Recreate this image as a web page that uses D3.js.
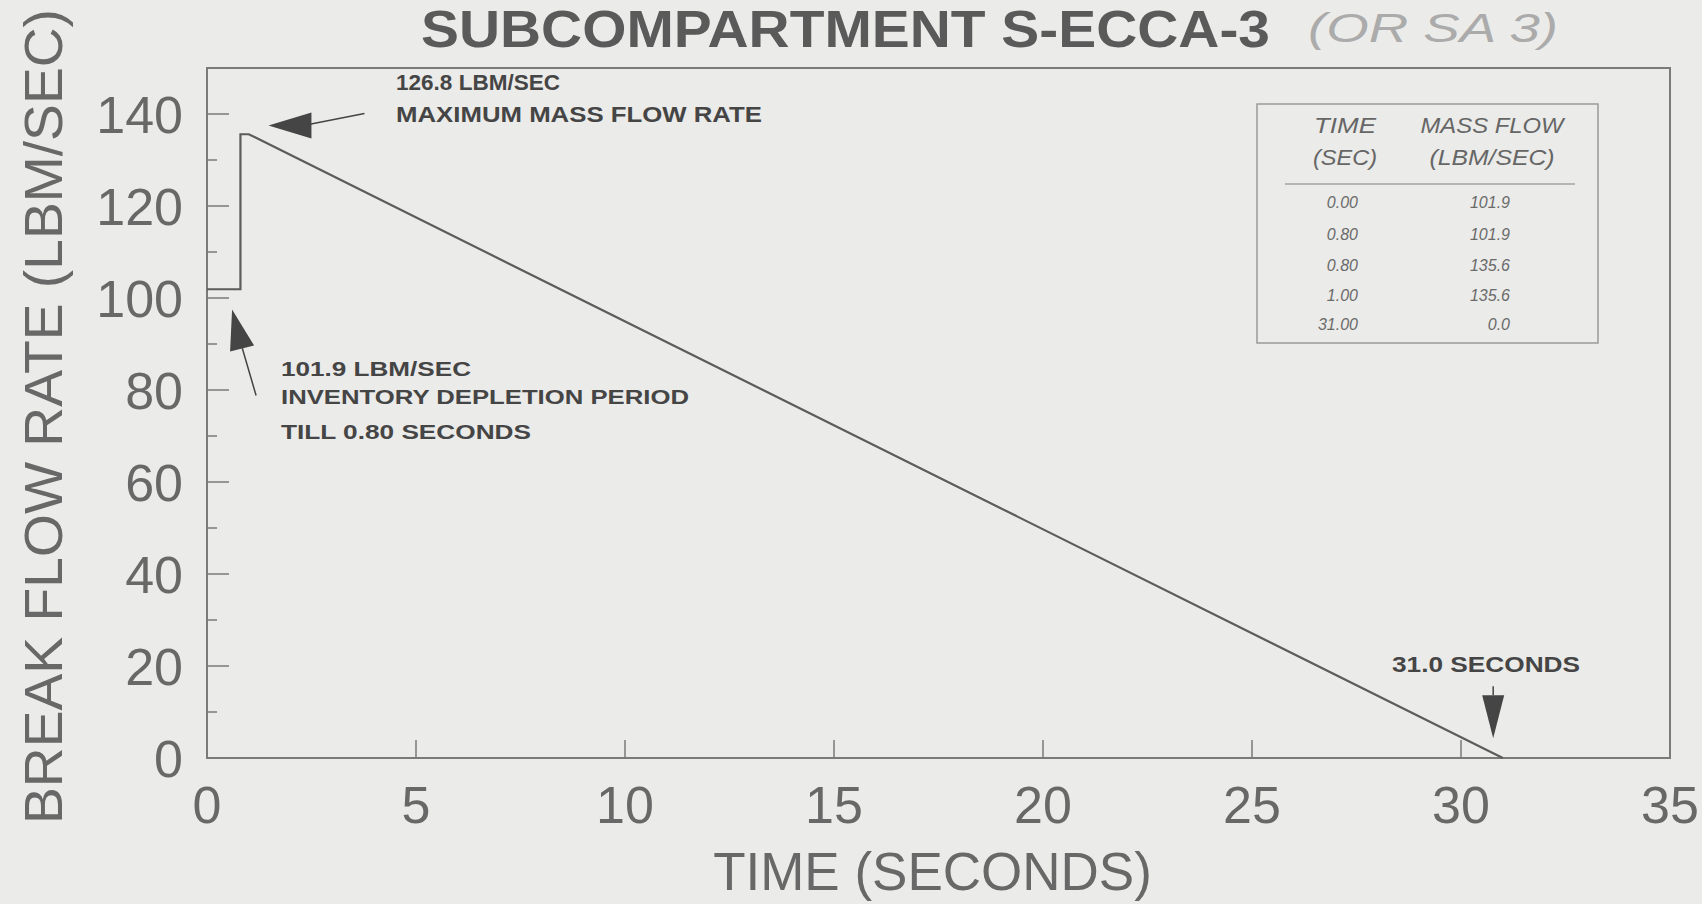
<!DOCTYPE html>
<html>
<head>
<meta charset="utf-8">
<script src="https://cdn.jsdelivr.net/npm/d3@7"></script>
<style>
  html, body { margin: 0; padding: 0; background: #ebebe9; }
  svg { display: block; }
  text { font-family: "Liberation Sans", Arial, sans-serif; }
</style>
</head>
<body>
<svg id="chart" width="1702" height="904"></svg>
<script>
// ---- data ----
const times = [0.00, 0.80, 0.80, 1.00, 31.00];
const flows = [101.9, 101.9, 135.6, 135.6, 0.0];
const xTicks = [0, 5, 10, 15, 20, 25, 30, 35];
const yTicks = [0, 20, 40, 60, 80, 100, 120, 140];
const yMinorTicks = [10, 30, 50, 70, 90, 110, 130];
const title = "SUBCOMPARTMENT S-ECCA-3";
const handNote = "(OR SA 3)";
const xLabel = "TIME (SECONDS)";
const yLabel = "BREAK FLOW RATE (LBM/SEC)";
const tableHeaders = [["TIME", "(SEC)"], ["MASS FLOW", "(LBM/SEC)"]];
const noteMax = ["126.8 LBM/SEC", "MAXIMUM MASS FLOW RATE"];
const noteInv = ["101.9 LBM/SEC", "INVENTORY DEPLETION PERIOD", "TILL 0.80 SECONDS"];
const noteEnd = ["31.0 SECONDS"];

// ---- layout ----
const svg = d3.select("#chart");
const L = 207, R = 1670, T = 68, B = 758;
const x = d3.scaleLinear().domain([0, 35]).range([L, R]);
const y = d3.scaleLinear().domain([0, 150]).range([B, T]);
const ink = "#5c5c5c", axisInk = "#7a7a7a", labelInk = "#686868";

// frame
svg.append("rect").attr("x", L).attr("y", T).attr("width", R - L).attr("height", B - T)
  .attr("fill", "none").attr("stroke", axisInk).attr("stroke-width", 2);

// x ticks (inward)
svg.append("g").selectAll("line").data(xTicks.slice(1, -1)).join("line")
  .attr("x1", d => x(d)).attr("x2", d => x(d)).attr("y1", B).attr("y2", B - 18)
  .attr("stroke", axisInk).attr("stroke-width", 1.5);
svg.append("g").selectAll("text").data(xTicks).join("text")
  .attr("x", d => x(d)).attr("y", 823).attr("text-anchor", "middle")
  .attr("font-size", 52).attr("fill", labelInk).text(d => d);

// y ticks (inward)
svg.append("g").selectAll("line").data(yTicks.slice(1)).join("line")
  .attr("x1", L).attr("x2", L + 22).attr("y1", d => y(d)).attr("y2", d => y(d))
  .attr("stroke", axisInk).attr("stroke-width", 1.5);
svg.append("g").selectAll("line").data(yMinorTicks).join("line")
  .attr("x1", L).attr("x2", L + 10).attr("y1", d => y(d)).attr("y2", d => y(d))
  .attr("stroke", axisInk).attr("stroke-width", 1.5);
svg.append("g").selectAll("text").data(yTicks).join("text")
  .attr("x", 183).attr("y", d => y(d)).attr("dy", "0.36em").attr("text-anchor", "end")
  .attr("font-size", 52).attr("fill", labelInk).text(d => d);

// axis labels
svg.append("text").attr("x", x(17.5) - 6).attr("y", 890).attr("text-anchor", "middle")
  .attr("font-size", 53).attr("fill", labelInk).text(xLabel);
svg.append("text").attr("transform", "translate(62,824) rotate(-90)")
  .attr("text-anchor", "start").attr("font-size", 54).attr("fill", labelInk)
  .attr("textLength", 815).attr("lengthAdjust", "spacingAndGlyphs").text(yLabel);

// title
svg.append("text").attr("x", 421).attr("y", 47).attr("font-size", 52).attr("font-weight", "bold")
  .attr("fill", "#5a5a5a").attr("textLength", 849).attr("lengthAdjust", "spacingAndGlyphs").text(title);
svg.append("text").attr("x", 1308).attr("y", 42).attr("font-size", 40).attr("font-style", "italic")
  .attr("fill", "#ababab").attr("font-weight", 300).attr("textLength", 250)
  .attr("lengthAdjust", "spacingAndGlyphs").text(handNote);

// data line
const pts = times.map((t, i) => [t, flows[i]]);
svg.append("path").datum(pts)
  .attr("d", d3.line().x(d => x(d[0])).y(d => y(d[1])))
  .attr("fill", "none").attr("stroke", ink).attr("stroke-width", 2.2);

// ---- annotations ----
const noteInk = "#454545";
function tri(p) { return "M" + p.map(q => q.join(",")).join("L") + "Z"; }

// max flow arrow (points left)
{
  const tx = x(1.47), ty = y(137.5);
  svg.append("path").attr("d", tri([[tx, ty], [tx + 43, ty - 13], [tx + 43, ty + 13]])).attr("fill", noteInk);
  svg.append("line").attr("x1", tx + 40).attr("y1", ty - 1).attr("x2", tx + 96).attr("y2", ty - 12)
    .attr("stroke", noteInk).attr("stroke-width", 1.5);
  const widths = [164, 366];
  noteMax.forEach((s, i) => svg.append("text").attr("x", 396).attr("y", 90 + i * 32)
    .attr("font-size", 22).attr("font-weight", "bold").attr("fill", noteInk)
    .attr("textLength", widths[i]).attr("lengthAdjust", "spacingAndGlyphs").text(s));
}
// inventory depletion arrow (points up)
{
  const tx = x(0.6), ty = y(97.5);
  svg.append("path").attr("d", tri([[tx, ty], [tx - 2, ty + 42], [tx + 22, ty + 36]])).attr("fill", noteInk);
  svg.append("line").attr("x1", tx + 10).attr("y1", ty + 38).attr("x2", tx + 24).attr("y2", ty + 86)
    .attr("stroke", noteInk).attr("stroke-width", 1.5);
  const widths = [190, 408, 250];
  const ys = [376, 404, 439];
  noteInv.forEach((s, i) => svg.append("text").attr("x", 281).attr("y", ys[i])
    .attr("font-size", 21).attr("font-weight", "bold").attr("fill", noteInk)
    .attr("textLength", widths[i]).attr("lengthAdjust", "spacingAndGlyphs").text(s));
}
// end arrow (points down)
{
  const tx = x(30.77), ty = y(4.3);
  svg.append("path").attr("d", tri([[tx, ty], [tx - 11, ty - 43], [tx + 11, ty - 43]])).attr("fill", noteInk);
  svg.append("line").attr("x1", tx).attr("x2", tx).attr("y1", ty - 43).attr("y2", ty - 52)
    .attr("stroke", noteInk).attr("stroke-width", 1.5);
  svg.append("text").attr("x", 1392).attr("y", 672).attr("font-size", 22).attr("font-weight", "bold")
    .attr("fill", noteInk).attr("textLength", 188).attr("lengthAdjust", "spacingAndGlyphs").text(noteEnd[0]);
}

// ---- table ----
{
  const tL = 1257, tT = 104, tR = 1598, tB = 343;
  const g = svg.append("g");
  g.append("rect").attr("x", tL).attr("y", tT).attr("width", tR - tL).attr("height", tB - tT)
    .attr("fill", "none").attr("stroke", "#9a9a9a").attr("stroke-width", 1.5);
  const colC = [1345, 1492];
  const hw = [[62, 64], [143, 125]];
  tableHeaders.forEach((h, c) => h.forEach((s, r) =>
    g.append("text").attr("x", colC[c]).attr("y", 133 + r * 32).attr("text-anchor", "middle")
      .attr("font-size", 22).attr("font-style", "italic").attr("fill", "#666")
      .attr("textLength", hw[c][r]).attr("lengthAdjust", "spacingAndGlyphs").text(s)));
  g.append("line").attr("x1", 1285).attr("x2", 1575).attr("y1", 184).attr("y2", 184)
    .attr("stroke", "#a5a5a5").attr("stroke-width", 1.5);
  const rowY = [208, 240, 271, 301, 330];
  const ft = d3.format(".2f"), ff = d3.format(".1f");
  g.selectAll("text.t").data(times).join("text").attr("class", "t")
    .attr("x", 1358).attr("y", (d, i) => rowY[i]).attr("text-anchor", "end")
    .attr("font-size", 16).attr("font-style", "italic").attr("fill", "#6a6a6a").text(d => ft(d));
  g.selectAll("text.f").data(flows).join("text").attr("class", "f")
    .attr("x", 1510).attr("y", (d, i) => rowY[i]).attr("text-anchor", "end")
    .attr("font-size", 16).attr("font-style", "italic").attr("fill", "#6a6a6a").text(d => ff(d));
}
</script>
</body>
</html>
